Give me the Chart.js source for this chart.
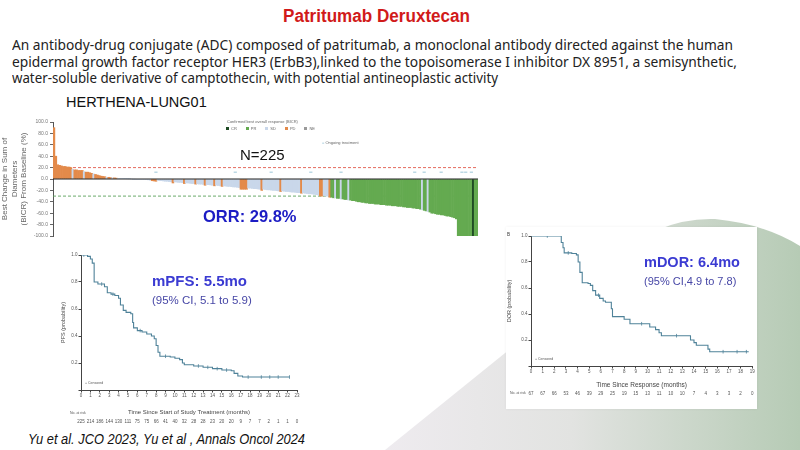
<!DOCTYPE html>
<html lang="en">
<head>
<meta charset="UTF-8">
<title>Patritumab Deruxtecan - HERTHENA-Lung01</title>
<script src="https://cdn.jsdelivr.net/npm/chart.js"></script>
<style>
  body { margin:0; width:800px; height:450px; overflow:hidden; background:#fff; position:relative;
         font-family:"Liberation Sans", Arial, sans-serif; }
  .abs { position:absolute; white-space:nowrap; }
  .fit { display:inline-block; transform-origin:0 50%; }
  #bgShape { position:absolute; left:385px; top:200px; width:415px; height:250px;
             background:linear-gradient(90deg, #eeebef 0%, #e2e3e1 45%, #b6cbb5 100%);
             clip-path:path('M0 250 L272 30 Q300 18 330 19 Q380 24 415 46 L415 250 Z'); }
  #title { left:283px; top:6px; font-family:"Liberation Sans Narrow", "Liberation Sans", sans-serif;
           font-weight:bold; font-size:18px; color:#d11a1a; }
  .para { left:12px; font-family:"Noto Sans", sans-serif; font-size:14px; color:#222; line-height:16px; }
  #trial { left:66px; top:94px; font-size:14.5px; color:#111; }
  #nTotal { left:240px; top:146px; font-size:15px; color:#111; }
  #orr { left:203px; top:207px; font-size:16.5px; font-weight:bold; color:#1c1cc4; }
  .big { font-size:15px; font-weight:bold; color:#3b3bd2; }
  .ci { font-size:11.5px; color:#4747a6; }
  #cite { left:28px; top:431px; font-style:italic; font-size:14px; color:#111;
          font-family:"Liberation Sans Narrow", "Liberation Sans", sans-serif; }
  .tiny { font-size:4px; color:#666; }
  .sw { display:inline-block; width:3px; height:3px; margin:0 2px 0 0; vertical-align:middle; }
  .box { position:absolute; }
  #dorPanel { position:absolute; left:506px; top:227px; width:251px; height:182px; background:#fff;
              box-shadow:0 0 3px rgba(0,0,0,0.06); }
</style>
</head>
<body>
<div id="bgShape"></div>
<div id="dorPanel"></div>

<div class="abs" id="title"><span class="fit" data-w="187">Patritumab Deruxtecan</span></div>
<div class="abs para" style="top:37px"><span class="fit" data-w="721">An antibody-drug conjugate (ADC) composed of patritumab, a monoclonal antibody directed against the human</span></div>
<div class="abs para" style="top:54px"><span class="fit" data-w="725">epidermal growth factor receptor HER3 (ErbB3),linked to the topoisomerase I inhibitor DX 8951, a semisynthetic,</span></div>
<div class="abs para" style="top:70px"><span class="fit" data-w="486">water-soluble derivative of camptothecin, with potential antineoplastic activity</span></div>

<div class="abs" id="trial">HERTHENA-LUNG01</div>

<div class="box" style="left:0;top:117px;width:483px;height:124px"><canvas id="waterfall"></canvas></div>
<div class="box" style="left:60px;top:245px;width:245px;height:185px"><canvas id="pfs"></canvas></div>
<div class="box" style="left:506px;top:227px;width:251px;height:182px"><canvas id="dor"></canvas></div>

<div class="abs tiny" style="left:227px;top:119px">Confirmed best overall response (BICR)</div>
<div class="abs tiny" id="legendRow" style="left:226px;top:126px"></div>
<div class="abs tiny" style="left:322px;top:140px"><span style="color:#9cc6d8">=</span> Ongoing treatment</div>

<div class="abs" id="nTotal">N=225</div>
<div class="abs" id="orr">ORR: 29.8%</div>

<div class="abs big" style="left:152px;top:272px">mPFS: 5.5mo</div>
<div class="abs ci" style="left:152px;top:294px">(95% CI, 5.1 to 5.9)</div>
<div class="abs big" style="left:644px;top:254px;font-size:14.5px">mDOR: 6.4mo</div>
<div class="abs ci" style="left:644px;top:275px;font-size:11px">(95% CI,4.9 to 7.8)</div>
<div class="abs tiny" style="left:507px;top:232px;font-size:4.5px;color:#333">B</div>

<div class="abs" id="cite"><span class="fit" data-w="277">Yu et al. JCO 2023, Yu et al , Annals Oncol 2024</span></div>

<script>
// ---- waterfall: best % change in sum of diameters, one value per patient (N=225)
const waterfallPct = [
  90, 40, 25, 24, 23, 22, 22, 21, 21, 20, 17, 16, 16, 15, 15,
  15, 13, 12, 12, 11, 10, 9, 8, 7, 6, 5, 4.5, 4, 3, 3,
  2.5, 2, 2, 1.5, 1, 1, 0.8, 0.5, 0.5, 0.3, 0.2, 0, -0.2, -0.3, -0.5,
  -0.5, -0.8, -1, -1, -1.2, -1.5, -2, -3, -3.5, -4, -2.5, -3, -3, -3.5, -4,
  -4, -4.5, -5, -7, -5, -5.5, -6, -6, -6.5, -8, -7, -7, -7.5, -8, -8,
  -9, -8.5, -9, -9, -9.5, -11, -10, -10, -10.5, -11, -12, -11, -11.5, -12, -13,
  -12, -12.5, -13, -13, -13.5, -14, -14, -14.5, -15, -18, -18, -18, -18, -16, -16,
  -16.5, -17, -17, -17.5, -18, -20, -18, -18.5, -19, -19, -19.5, -20, -20, -20.5, -21,
  -22, -21, -21.5, -22, -22, -22.5, -23, -23, -23.5, -24, -24, -25, -24.5, -25, -25.5,
  -26, -26, -26.5, -27, -27.5, -28, -30, -30, -29, -30, -30, -32, -32, -33, -33,
  -34, -34, -35, -35, -36, -36, -37, -37, -38, -38, -39, -40, -40, -41, -41,
  -42, -42, -43, -43, -43, -44, -44, -44, -45, -45, -45, -46, -46, -46, -47,
  -47, -47, -48, -48, -48, -49, -49, -50, -50, -50, -51, -51, -52, -52, -53,
  -54, -55, -56, -57, -58, -60, -60, -61, -62, -62, -63, -63, -64, -65, -65,
  -66, -67, -68, -70, -100, -100, -100, -100, -100, -100, -100, -100, -100, -100, -100
];
// best overall response per patient: P=PD, S=SD, R=PR, C=CR
const bestResponse = (
  'PPPPPPPPPPSPPPP' + 'PSPPPPSPPPPPPSP' + 'PSPPSSSSSSSSSSS' + 'SSSSSSSPPPSSSSS' +
  'SSSPSSSSSPSSSSS' + 'PSSSSPSSSSPSSSP' + 'SSSSSSSSSPPPPSS' + 'SSSSSPSSSSSSSSS' +
  'PSSSSSSSSSSPSSS' + 'SSSSSSPPSSSPRRS' + 'RRSRRRSRRRRRRRR' + 'RRRRRRRRRRRRRRR' +
  'RRRRRRRRRRRRRRR' + 'SRRSRRRRRRRRRRR' + 'RRRRRRRRRRRRCRR'
).split('');
const responseNames = { C: 'CR', R: 'PR', S: 'SD', P: 'PD', N: 'NE' };
const responseColors = { CR: '#1f4b24', PR: '#64aa50', SD: '#c9d7ea', PD: '#e38a4a', NE: '#9a9a9a' };
const ongoingIdx = [54, 96, 115, 136, 152, 191, 196, 205, 216, 218, 221];
const ongoingLevel = 12;
const pdThreshold = 20;
const prThreshold = -30;

// ---- Kaplan-Meier: PFS (months, probability after each drop)
const pfsTime = [0, 0.7, 1.0, 1.2, 1.4, 1.8, 2.5, 2.8, 3.2, 3.6, 4.0, 4.2, 4.5, 4.8, 5.3, 5.5, 5.6, 6.0, 6.5, 7.0,
                 7.5, 7.8, 8.0, 8.2, 8.4, 9.5, 10.0, 10.5, 10.8, 11.0, 12.0, 13.0, 14.0, 15.0, 16.0, 16.3, 16.7, 17.2, 22.2];
const pfsSurv = [1.0, 0.99, 0.97, 0.94, 0.80, 0.785, 0.765, 0.72, 0.71, 0.70, 0.68, 0.63, 0.59, 0.575, 0.565, 0.50, 0.46, 0.44, 0.43, 0.415,
                 0.40, 0.38, 0.33, 0.28, 0.25, 0.245, 0.235, 0.225, 0.20, 0.187, 0.178, 0.168, 0.158, 0.148, 0.143, 0.123, 0.104, 0.096, 0.096];
const pfsCensTime = [0.3, 2.2, 3.4, 6.3, 9.0, 12.5, 13.5, 14.5, 15.5, 17.8, 19.2, 20.1, 21.0, 22.2];
const pfsCensSurv = [1.0, 0.785, 0.71, 0.44, 0.25, 0.178, 0.168, 0.158, 0.148, 0.096, 0.096, 0.096, 0.096, 0.096];
const pfsAtRisk = [225, 214, 186, 144, 130, 111, 75, 75, 66, 41, 40, 32, 28, 28, 23, 20, 20, 9, 7, 7, 2, 1, 1, 0];

// ---- Kaplan-Meier: DOR
const dorTime = [0, 2.5, 2.6, 2.75, 2.85, 3.5, 3.9, 4.05, 4.2, 4.4, 4.9, 5.1, 5.3, 5.55, 5.9, 6.2, 6.4, 6.9, 7.0,
                 8.0, 8.5, 10.2, 10.7, 11.0, 11.2, 13.7, 14.0, 14.2, 15.2, 15.35, 18.7];
const dorSurv = [1.0, 1.0, 0.95, 0.91, 0.87, 0.865, 0.855, 0.80, 0.72, 0.64, 0.635, 0.62, 0.58, 0.545, 0.52, 0.50, 0.49, 0.44, 0.38,
                 0.36, 0.325, 0.30, 0.28, 0.256, 0.233, 0.20, 0.18, 0.16, 0.13, 0.11, 0.11];
const dorCensTime = [1.4, 3.2, 5.8, 9.5, 12.5, 16.5, 17.7, 18.5];
const dorCensSurv = [1.0, 0.87, 0.545, 0.325, 0.233, 0.11, 0.11, 0.11];
const dorAtRisk = [67, 67, 66, 53, 46, 39, 29, 25, 19, 15, 13, 11, 10, 10, 7, 4, 3, 3, 2, 0];

const kmColor = '#4f8299';
const narrow = '"Liberation Sans Narrow", "Liberation Sans", sans-serif';
Chart.defaults.font.family = narrow;
Chart.defaults.animation = false;

// stretch text lines to the widths measured on the slide
document.querySelectorAll('.fit').forEach(el => {
  const w = el.getBoundingClientRect().width;
  el.style.transform = 'scaleX(' + (+el.dataset.w / w) + ')';
});

// tiny response legend
document.getElementById('legendRow').innerHTML = ['CR', 'PR', 'SD', 'PD', 'NE'].map(k =>
  '<span style="margin-right:9px"><span class="sw" style="background:' + responseColors[k] + '"></span>' + k + '</span>'
).join('');

const refLines = {
  id: 'refLines',
  beforeDatasetsDraw(chart) {
    const { ctx, chartArea: a, scales: { y } } = chart;
    ctx.save();
    ctx.lineWidth = 0.9;
    ctx.setLineDash([3, 2]);
    [[pdThreshold, '#e25a4c'], [prThreshold, '#5aa05a']].forEach(([v, c]) => {
      ctx.strokeStyle = c;
      ctx.beginPath();
      ctx.moveTo(a.left, y.getPixelForValue(v));
      ctx.lineTo(a.right, y.getPixelForValue(v));
      ctx.stroke();
    });
    ctx.restore();
  },
  afterDatasetsDraw(chart) {
    const { ctx, chartArea: a, scales: { y } } = chart;
    ctx.save();
    ctx.strokeStyle = '#222';
    ctx.lineWidth = 1.2;
    ctx.beginPath();
    ctx.moveTo(a.left, y.getPixelForValue(0));
    ctx.lineTo(a.right, y.getPixelForValue(0));
    ctx.stroke();
    ctx.restore();
  }
};

new Chart(document.getElementById('waterfall'), {
  data: {
    labels: waterfallPct.map((_, i) => i + 1),
    datasets: [{
      type: 'line',
      data: waterfallPct.map((_, i) => ongoingIdx.includes(i) ? ongoingLevel : null),
      showLine: false,
      pointStyle: 'line',
      pointRadius: 1.6,
      pointBorderColor: '#9cc6d8',
      pointBorderWidth: 1,
      order: 0
    }, {
      type: 'bar',
      data: waterfallPct,
      backgroundColor: bestResponse.map(c => responseColors[responseNames[c]]),
      categoryPercentage: 1,
      barPercentage: 1,
      borderWidth: 0,
      order: 1
    }]
  },
  options: {
    responsive: true,
    maintainAspectRatio: false,
    layout: { padding: { top: 5, bottom: 5, right: 3, left: 0 } },
    plugins: { legend: { display: false }, tooltip: { enabled: false } },
    scales: {
      x: { display: false },
      y: {
        min: -100, max: 100,
        ticks: { stepSize: 20, font: { size: 5 }, color: '#777', padding: 2, callback: v => v.toFixed(1) },
        grid: { drawOnChartArea: false, tickLength: 3, tickColor: '#666' },
        border: { color: '#555' },
        title: { display: true, text: ['Best Change in Sum of', 'Diameters', '(BICR) From Baseline (%)'],
                 font: { size: 8, family: '"Liberation Sans", sans-serif' }, color: '#666', padding: 0 },
        afterFit: s => { s.width = 53; }
      }
    }
  },
  plugins: [refLines]
});

const riskTable = {
  id: 'riskTable',
  afterDraw(chart, args, o) {
    const { ctx, chartArea: a, scales: { x } } = chart;
    ctx.save();
    ctx.fillStyle = '#555';
    ctx.textBaseline = 'middle';
    ctx.textAlign = 'left';
    ctx.font = '3.5px ' + narrow;
    ctx.fillText('No. at risk', o.labelX, a.bottom + o.labelDy);
    ctx.fillText('+ Censored', a.left + 4, a.bottom - 7);
    ctx.font = o.fontSize + 'px ' + narrow;
    ctx.textAlign = 'center';
    o.values.forEach((n, i) => ctx.fillText(String(n), x.getPixelForValue(i), a.bottom + o.rowDy));
    ctx.restore();
  }
};

function kmChart(id, times, surv, censT, censS, xMax, yTitle, xTitle, risk, fit) {
  return new Chart(document.getElementById(id), {
    type: 'line',
    data: {
      datasets: [{
        data: times.map((t, i) => ({ x: t, y: surv[i] })),
        stepped: 'before',
        borderColor: kmColor,
        borderWidth: 1.1,
        pointRadius: 0
      }, {
        data: censT.map((t, i) => ({ x: t, y: censS[i] })),
        showLine: false,
        pointStyle: 'line',
        rotation: 90,
        pointRadius: 1.8,
        pointBorderColor: kmColor,
        pointBorderWidth: 0.8
      }]
    },
    options: {
      responsive: true,
      maintainAspectRatio: false,
      layout: { padding: fit.padding },
      plugins: { legend: { display: false }, tooltip: { enabled: false },
                 riskTable: { values: risk, fontSize: 4.5, labelX: fit.labelX, labelDy: fit.labelDy, rowDy: fit.rowDy } },
      scales: {
        x: {
          type: 'linear', min: 0, max: xMax,
          ticks: { stepSize: 1, maxTicksLimit: 40, autoSkip: false, maxRotation: 0, minRotation: 0,
                   font: { size: 4.5 }, color: '#555', padding: 1 },
          grid: { drawOnChartArea: false, tickLength: 2.5, tickColor: '#444' },
          border: { color: '#444' },
          title: { display: true, text: xTitle, font: { size: fit.xTitleSize }, color: '#444', padding: 0 },
          afterFit: s => { s.height = fit.xHeight; }
        },
        y: {
          min: 0, max: 1,
          ticks: { stepSize: 0.2, font: { size: 4.5 }, color: '#555', padding: 1, callback: v => v === 0 ? '' : v.toFixed(1) },
          grid: { drawOnChartArea: false, tickLength: 2.5, tickColor: '#444' },
          border: { color: '#444' },
          title: { display: true, text: yTitle, font: { size: 5.5 }, color: '#444', padding: 0 },
          afterFit: s => { s.width = fit.yWidth; }
        }
      }
    },
    plugins: [riskTable]
  });
}

kmChart('pfs', pfsTime, pfsSurv, pfsCensTime, pfsCensSurv, 23, 'PFS (probability)',
        'Time Since Start of Study Treatment (months)', pfsAtRisk,
        { padding: { top: 10, right: 8, bottom: 14, left: 0 }, yWidth: 21, xHeight: 26, xTitleSize: 6,
          labelX: 10, labelDy: 23, rowDy: 32 });

kmChart('dor', dorTime, dorSurv, dorCensTime, dorCensSurv, 19, 'DOR (probability)',
        'Time Since Response (months)', dorAtRisk,
        { padding: { top: 9, right: 3, bottom: 20, left: 0 }, yWidth: 25, xHeight: 23, xTitleSize: 6.5,
          labelX: 4, labelDy: 27, rowDy: 28 });
</script>
</body>
</html>
